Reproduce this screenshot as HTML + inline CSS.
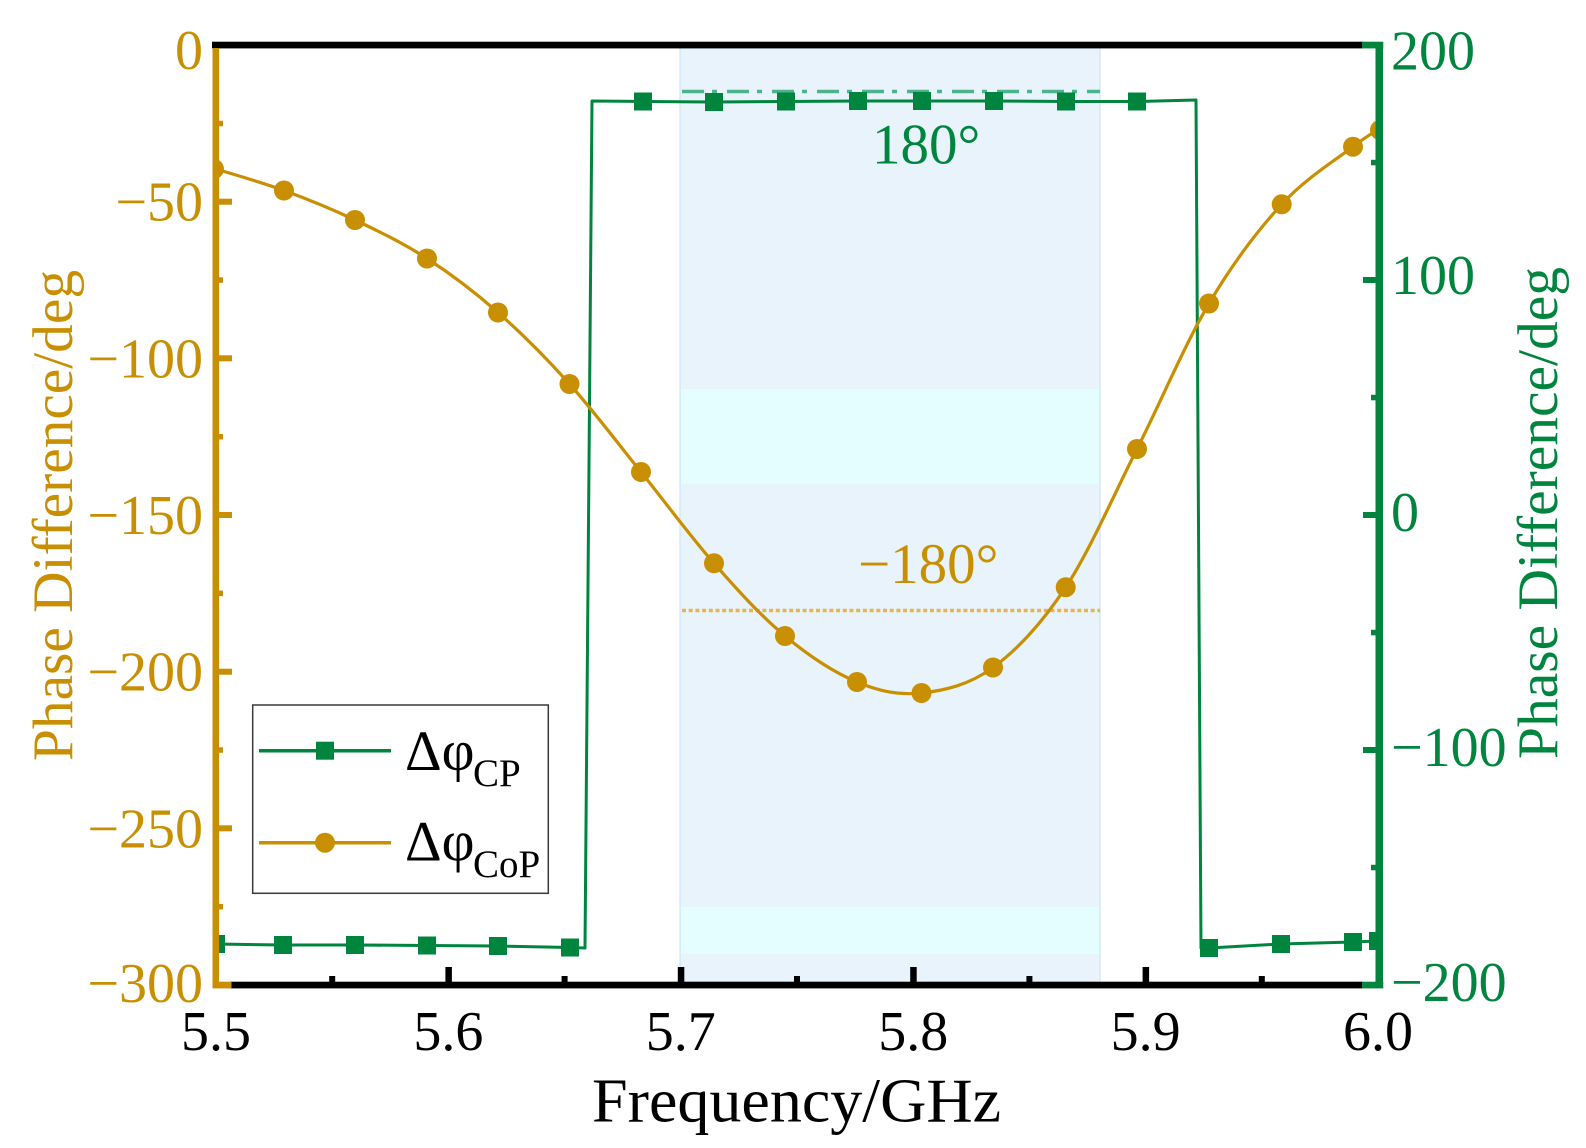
<!DOCTYPE html>
<html>
<head>
<meta charset="utf-8">
<style>
html,body{margin:0;padding:0;background:#fff;}
svg{display:block;}
text{font-family:"Liberation Serif","DejaVu Serif",serif;}
</style>
</head>
<body>
<svg width="1586" height="1148" viewBox="0 0 1586 1148" xmlns="http://www.w3.org/2000/svg">
<defs>
<clipPath id="plot"><rect x="216" y="45" width="1162" height="940"/></clipPath>
</defs>
<rect x="0" y="0" width="1586" height="1148" fill="#ffffff"/>

<!-- shaded band -->
<rect x="680" y="45" width="420" height="940" fill="#E8F3FC" stroke="#CFE4F7" stroke-width="1.2"/>
<rect x="681" y="389" width="418" height="95" fill="#E4FDFF"/>
<rect x="681" y="907" width="418" height="47" fill="#E4FDFF"/>

<!-- reference lines -->
<line x1="682" y1="91.5" x2="1100" y2="91.5" stroke="#4DB38C" stroke-width="3.5" stroke-dasharray="22 8 5 10"/>
<line x1="682" y1="610.5" x2="1100" y2="610.5" stroke="#E6B450" stroke-width="3.5" stroke-dasharray="4 2.7"/>

<g clip-path="url(#plot)">
<!-- CP green trace -->
<polyline fill="none" stroke="#00853F" stroke-width="3" stroke-linejoin="round"
 points="216,944 283,945 355,945 427,945.5 498,946 570,947.5 585,948 592,101 643,101.5 714,102 786,101.5 858,101 922,101 994,101 1066,101.5 1137,101.5 1196,100 1201,948 1209,948 1281,944 1353,942 1378,941"/>
<!-- CoP gold curve -->
<path fill="none" stroke="#C98F02" stroke-width="3.2"
 d="M216,169 C227.3,172.6 260.8,182 284,190.5 C307.2,199 331.2,208.7 355,220 C378.8,231.3 403.2,243.1 427,258.5 C450.8,273.9 474.3,291.6 498,312.5 C521.75,333.4 545.7,357.4 569.5,384 C593.3,410.6 616.9,442.1 641,472 C665.1,501.9 690,536 714,563.3 C738,590.6 761.2,616.2 785,636 C808.8,655.8 834.3,672.5 857,682 C879.75,691.5 898.8,695.4 921.5,693 C944.2,690.6 969,685.1 993,667.5 C1017,649.9 1041.7,623.7 1065.7,587.3 C1089.7,550.9 1113.1,496.3 1137,449 C1160.9,401.7 1184.9,344.3 1209,303.5 C1233.1,262.7 1257.7,230.4 1281.7,204.3 C1305.7,178.2 1337,159.1 1353,146.7 C1369,134.3 1373.8,132.8 1378,130"/>
<!-- green squares -->
<g fill="#00853F">
<rect x="207" y="935" width="18" height="18"/>
<rect x="274" y="936" width="18" height="18"/>
<rect x="346" y="936" width="18" height="18"/>
<rect x="418" y="936.5" width="18" height="18"/>
<rect x="489" y="937" width="18" height="18"/>
<rect x="561" y="938.5" width="18" height="18"/>
<rect x="634" y="92.5" width="18" height="18"/>
<rect x="705" y="93" width="18" height="18"/>
<rect x="777" y="92.5" width="18" height="18"/>
<rect x="849" y="92" width="18" height="18"/>
<rect x="913" y="92" width="18" height="18"/>
<rect x="985" y="92" width="18" height="18"/>
<rect x="1057" y="92.5" width="18" height="18"/>
<rect x="1128" y="92.5" width="18" height="18"/>
<rect x="1200" y="939" width="18" height="18"/>
<rect x="1272" y="935" width="18" height="18"/>
<rect x="1344" y="933" width="18" height="18"/>
<rect x="1369" y="932" width="18" height="18"/>
</g>
<!-- gold circles -->
<g fill="#C98F02">
<circle cx="214" cy="169" r="10"/>
<circle cx="284" cy="190.5" r="10"/>
<circle cx="355" cy="220" r="10"/>
<circle cx="427" cy="258.5" r="10"/>
<circle cx="498" cy="312.5" r="10"/>
<circle cx="569.5" cy="384" r="10"/>
<circle cx="641" cy="472" r="10"/>
<circle cx="714" cy="563.3" r="10"/>
<circle cx="785" cy="636" r="10"/>
<circle cx="857" cy="682" r="10"/>
<circle cx="921.5" cy="693" r="10"/>
<circle cx="993" cy="667.5" r="10"/>
<circle cx="1065.7" cy="587.3" r="10"/>
<circle cx="1137" cy="449" r="10"/>
<circle cx="1209" cy="303.5" r="10"/>
<circle cx="1281.7" cy="204.3" r="10"/>
<circle cx="1353" cy="146.7" r="10"/>
<circle cx="1380" cy="130" r="10"/>
</g>
</g>

<!-- annotations -->
<text x="872" y="163.3" font-size="57" fill="#00853F">180°</text>
<text x="858" y="583" font-size="57" fill="#C98F02">−180°</text>

<!-- legend -->
<rect x="252.7" y="705" width="295.6" height="188.3" fill="#ffffff" stroke="#3a3a3a" stroke-width="1.5"/>
<line x1="259" y1="750.7" x2="391" y2="750.7" stroke="#00853F" stroke-width="3.5"/>
<rect x="316" y="741.7" width="18" height="18" fill="#00853F"/>
<text x="405" y="770" font-size="57" fill="#000">Δφ</text>
<text x="473" y="786" font-size="39" fill="#000">CP</text>
<line x1="259" y1="842.7" x2="391" y2="842.7" stroke="#C98F02" stroke-width="3.5"/>
<circle cx="325" cy="842.7" r="10" fill="#C98F02"/>
<text x="405" y="860.7" font-size="57" fill="#000">Δφ</text>
<text x="473" y="877" font-size="39" fill="#000">CoP</text>

<!-- spines -->
<rect x="212" y="41.7" width="1151" height="6.7" fill="#000"/>
<rect x="1362" y="41.7" width="21.3" height="6.7" fill="#00853F"/>
<rect x="230" y="981.7" width="1133" height="6.7" fill="#000"/>
<rect x="212.5" y="981.7" width="19" height="6.7" fill="#C98F02"/>
<rect x="212.5" y="48" width="6.6" height="940" fill="#C98F02"/>
<rect x="1362" y="981.7" width="21.3" height="6.7" fill="#00853F"/>
<rect x="1375.5" y="45" width="7.5" height="943" fill="#00853F"/>

<!-- left ticks -->
<g fill="#C98F02">
<rect x="218" y="198.7" width="14" height="6"/>
<rect x="218" y="355.3" width="14" height="6"/>
<rect x="218" y="512" width="14" height="6"/>
<rect x="218" y="668.7" width="14" height="6"/>
<rect x="218" y="825.3" width="14" height="6"/>
<rect x="218" y="120.8" width="5" height="5.5"/>
<rect x="218" y="277.3" width="5" height="5.5"/>
<rect x="218" y="434" width="5" height="5.5"/>
<rect x="218" y="590.6" width="5" height="5.5"/>
<rect x="218" y="747.3" width="5" height="5.5"/>
<rect x="218" y="904" width="5" height="5.5"/>
</g>
<!-- right ticks -->
<g fill="#00853F">
<rect x="1363" y="277" width="13" height="6"/>
<rect x="1363" y="512" width="13" height="6"/>
<rect x="1363" y="747" width="13" height="6"/>
<rect x="1371" y="159.8" width="5" height="5.5"/>
<rect x="1371" y="394.8" width="5" height="5.5"/>
<rect x="1371" y="629.8" width="5" height="5.5"/>
<rect x="1371" y="864.8" width="5" height="5.5"/>
</g>
<!-- bottom ticks -->
<g fill="#000">
<rect x="445.4" y="967" width="6.5" height="16"/>
<rect x="677.8" y="967" width="6.5" height="16"/>
<rect x="910.2" y="967" width="6.5" height="16"/>
<rect x="1142.6" y="967" width="6.5" height="16"/>
<rect x="329.2" y="976" width="6" height="7"/>
<rect x="561.6" y="976" width="6" height="7"/>
<rect x="794" y="976" width="6" height="7"/>
<rect x="1026.4" y="976" width="6" height="7"/>
<rect x="1258.8" y="976" width="6" height="7"/>
</g>

<!-- left tick labels -->
<g font-size="56" fill="#C98F02" text-anchor="end">
<text x="203" y="69">0</text>
<text x="203" y="220.5">−50</text>
<text x="203" y="377.3">−100</text>
<text x="203" y="534">−150</text>
<text x="203" y="690.7">−200</text>
<text x="203" y="847.3">−250</text>
<text x="203" y="1002">−300</text>
</g>
<!-- right tick labels -->
<g font-size="56" fill="#00853F">
<text x="1391" y="69.3">200</text>
<text x="1391" y="294">100</text>
<text x="1391" y="531">0</text>
<text x="1391" y="766">−100</text>
<text x="1391" y="1001">−200</text>
</g>
<!-- x tick labels -->
<g font-size="56" fill="#000" text-anchor="middle">
<text x="216" y="1050">5.5</text>
<text x="448.4" y="1050">5.6</text>
<text x="680.8" y="1050">5.7</text>
<text x="913.2" y="1050">5.8</text>
<text x="1145.6" y="1050">5.9</text>
<text x="1378" y="1050">6.0</text>
</g>

<!-- axis titles -->
<text x="592" y="1121.5" font-size="62" fill="#000" textLength="409" lengthAdjust="spacingAndGlyphs">Frequency/GHz</text>
<text transform="translate(72,761) rotate(-90)" font-size="57" fill="#C98F02" textLength="491" lengthAdjust="spacingAndGlyphs">Phase Difference/deg</text>
<text transform="translate(1557,759) rotate(-90)" font-size="57" fill="#00853F" textLength="492" lengthAdjust="spacingAndGlyphs">Phase Difference/deg</text>
</svg>
</body>
</html>
